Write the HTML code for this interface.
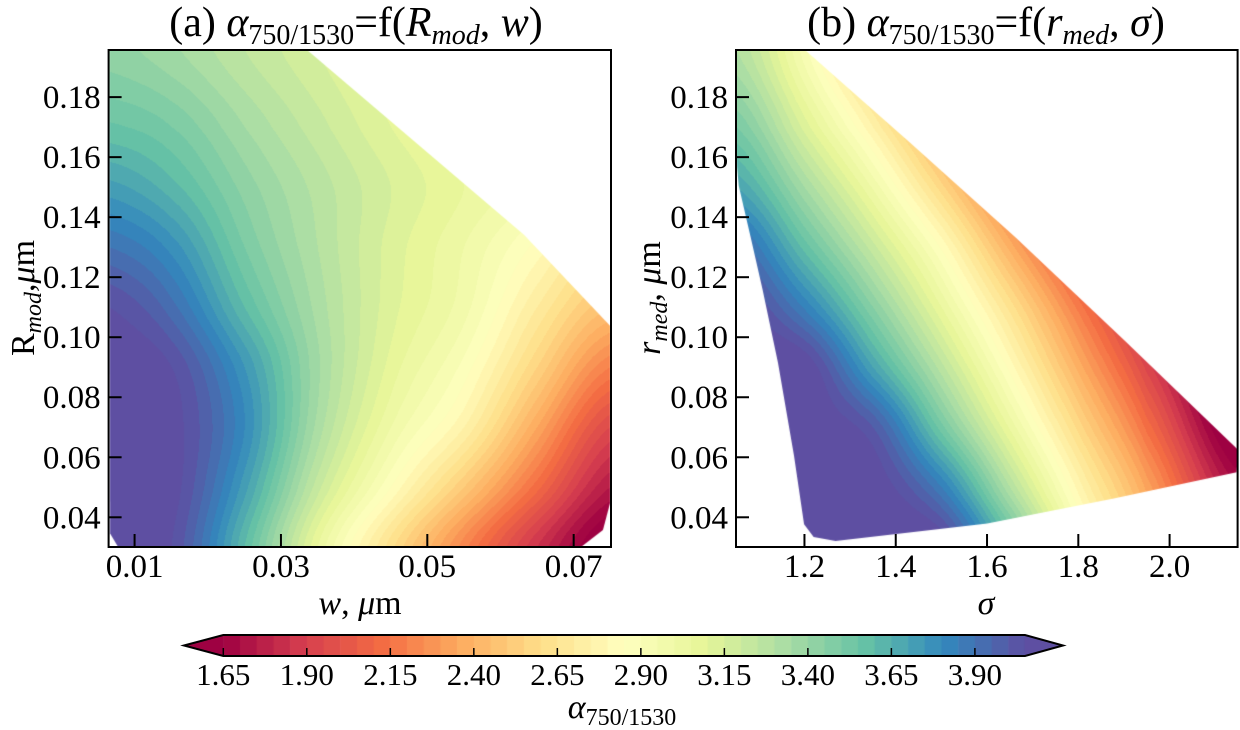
<!DOCTYPE html>
<html><head><meta charset="utf-8">
<style>
html,body{margin:0;padding:0;background:#fff;}
#wrap{position:relative;width:1240px;height:730px;overflow:hidden;font-family:"Liberation Serif",serif;}
canvas{position:absolute;}
svg{position:absolute;left:0;top:0;}
svg text{font-family:"Liberation Serif",serif;}
</style></head>
<body>
<div id="wrap">
<canvas id="cA"></canvas>
<canvas id="cB"></canvas>
<canvas id="cBar"></canvas>
<svg id="svg" width="1240" height="730"></svg>
</div>
<script>
// ---- data ----
const levelMin = 1.65, levelMax = 4.05, levelStep = 0.05;
const cbarTicks = [1.65,1.90,2.15,2.40,2.65,2.90,3.15,3.40,3.65,3.90];
// panel (a): grid of alpha over w (cols) and R_mod (rows)
const gridAx = [0.0065,0.015,0.025,0.035,0.045,0.055,0.065,0.075];
const gridAy = [0.03,0.05,0.07,0.09,0.11,0.13,0.15,0.17,0.196];
const gridAv = [
 [4.10,4.05,3.60,3.05,2.62,2.22,1.85,1.55],
 [4.10,4.08,3.72,3.22,2.85,2.50,2.12,1.75],
 [4.10,4.08,3.80,3.33,3.00,2.75,2.35,1.95],
 [4.10,4.05,3.75,3.36,3.08,2.88,2.55,2.20],
 [4.05,3.92,3.60,3.33,3.12,2.97,2.70,2.45],
 [3.90,3.78,3.50,3.30,3.13,3.00,2.83,2.62],
 [3.72,3.62,3.43,3.28,3.15,3.05,2.95,2.80],
 [3.56,3.50,3.35,3.22,3.10,3.01,2.92,2.80],
 [3.42,3.36,3.25,3.15,3.05,2.98,2.90,2.80]];
const domainAx = [0.0065,0.0334,0.0632,0.075,0.075,0.074,0.0710,0.0077,0.0066];
const domainAy = [0.1960,0.1960,0.1341,0.1037,0.045,0.0358,0.0301,0.0301,0.0346];
// panel (b): grid of alpha over sigma (cols) and r_med (rows)
const gridBx = [1.05,1.2,1.35,1.5,1.65,1.8,1.95,2.15];
const gridBy = [0.03,0.05,0.07,0.09,0.11,0.13,0.15,0.17,0.196];
const gridBv = [
 [4.10,4.10,4.10,4.10,3.59,2.94,2.46,1.86],
 [4.10,4.10,4.10,3.85,3.30,2.78,2.33,1.70],
 [4.10,4.10,4.00,3.52,3.04,2.58,2.13,1.50],
 [4.10,4.10,3.70,3.27,2.83,2.38,1.93,1.33],
 [4.10,3.84,3.45,3.05,2.63,2.18,1.73,1.13],
 [3.95,3.58,3.22,2.84,2.38,1.93,1.48,1.00],
 [3.70,3.35,2.99,2.57,2.11,1.66,1.21,1.00],
 [3.50,3.13,2.75,2.30,1.85,1.40,1.00,1.00],
 [3.30,2.92,2.47,2.00,1.55,1.10,1.00,1.00]];
const domainBx = [1.05,1.199,1.43,1.661,1.90,2.149,2.146,1.877,1.60,1.268,1.22,1.199,1.177,1.142,1.108,1.082,1.056,1.05];
const domainBy = [0.1960,0.1960,0.1650,0.1334,0.0990,0.0625,0.055,0.0463,0.0379,0.0321,0.0334,0.0377,0.0605,0.0914,0.116,0.1334,0.1505,0.1604];
const ticksAx = [0.01,0.03,0.05,0.07], ticksAxLbl = ["0.01","0.03","0.05","0.07"];
const ticksY = [0.04,0.06,0.08,0.10,0.12,0.14,0.16,0.18], ticksYLbl = ["0.04","0.06","0.08","0.10","0.12","0.14","0.16","0.18"];
const ticksBx = [1.2,1.4,1.6,1.8,2.0], ticksBxLbl = ["1.2","1.4","1.6","1.8","2.0"];

// ---- layout ----
const PA = {l:108.6,r:611,t:50,b:547,x0:0.00645,x1:0.0751,y0:0.0301,y1:0.1957};
const PB = {l:736,r:1237.6,t:50,b:547,x0:1.05,x1:2.149,y0:0.0301,y1:0.1957};
const CB = {l:223.3,r:1025,t:635,b:656,tipL:184,tipR:1063};

const spectral = ["#9e0142","#d53e4f","#f46d43","#fdae61","#fee08b","#ffffbf","#e6f598","#abdda4","#66c2a5","#3288bd","#5e4fa2"].map(h=>[parseInt(h.slice(1,3),16),parseInt(h.slice(3,5),16),parseInt(h.slice(5,7),16)]);
function cmap(t){t=Math.max(0,Math.min(1,t));const p=t*10,i=Math.min(9,Math.floor(p)),f=p-i;const a=spectral[i],b=spectral[i+1];return [a[0]+(b[0]-a[0])*f,a[1]+(b[1]-a[1])*f,a[2]+(b[2]-a[2])*f].map(Math.round);}
const nLev = Math.round((levelMax-levelMin)/levelStep);
function levelColor(v){ if(v<levelMin) return cmap(0); if(v>=levelMax) return cmap(1);
  const i=Math.min(nLev-1,Math.floor((v-levelMin)/levelStep)); return cmap((i+0.5)/nLev);}
function cr(p0,p1,p2,p3,t){return 0.5*((2*p1)+(-p0+p2)*t+(2*p0-5*p1+4*p2-p3)*t*t+(-p0+3*p1-3*p2+p3)*t*t*t);}
function interp(gx,gy,gv,x,y){
  let i=0; while(i<gx.length-2 && x>gx[i+1]) i++;
  let j=0; while(j<gy.length-2 && y>gy[j+1]) j++;
  let fx=(x-gx[i])/(gx[i+1]-gx[i]), fy=(y-gy[j])/(gy[j+1]-gy[j]);
  fx=Math.max(0,Math.min(1,fx)); fy=Math.max(0,Math.min(1,fy));
  const nx=gx.length, ny=gy.length, ci=k=>Math.max(0,Math.min(nx-1,k)), cj=k=>Math.max(0,Math.min(ny-1,k));
  const rows=[];
  for(let d=-1;d<=2;d++){const r=gv[cj(j+d)]; rows.push(cr(r[ci(i-1)],r[ci(i)],r[ci(i+1)],r[ci(i+2)],fx));}
  return cr(rows[0],rows[1],rows[2],rows[3],fy);
}
function drawField(id,P,gx,gy,gv,dx,dy){
  const c=document.getElementById(id); const w=Math.round(P.r-P.l), h=Math.round(P.b-P.t);
  c.width=w; c.height=h; c.style.left=P.l+'px'; c.style.top=P.t+'px';
  const ctx=c.getContext('2d'); const img=ctx.createImageData(w,h);
  for(let py=0;py<h;py++){ const y=P.y1-(py+0.5)/h*(P.y1-P.y0);
    for(let px=0;px<w;px++){ const x=P.x0+(px+0.5)/w*(P.x1-P.x0);
      const col=levelColor(interp(gx,gy,gv,x,y)); const k=(py*w+px)*4;
      img.data[k]=col[0];img.data[k+1]=col[1];img.data[k+2]=col[2];img.data[k+3]=255;}}
  const tmp=document.createElement('canvas'); tmp.width=w; tmp.height=h; tmp.getContext('2d').putImageData(img,0,0);
  ctx.beginPath();
  dx.forEach((xv,i)=>{const X=(xv-P.x0)/(P.x1-P.x0)*w, Y=(P.y1-dy[i])/(P.y1-P.y0)*h; i?ctx.lineTo(X,Y):ctx.moveTo(X,Y);});
  ctx.closePath(); ctx.save(); ctx.clip(); ctx.drawImage(tmp,0,0); ctx.restore();
}
drawField('cA',PA,gridAx,gridAy,gridAv,domainAx,domainAy);
drawField('cB',PB,gridBx,gridBy,gridBv,domainBx,domainBy);

// colorbar
(function(){
  const c=document.getElementById('cBar'); c.width=CB.tipR-CB.tipL+2; c.height=CB.b-CB.t;
  c.style.left=CB.tipL+'px'; c.style.top=CB.t+'px';
  const ctx=c.getContext('2d'); const bw=(CB.r-CB.l)/nLev;
  for(let i=0;i<nLev;i++){const col=cmap((i+0.5)/nLev); ctx.fillStyle=`rgb(${col})`; ctx.fillRect(CB.l-CB.tipL+i*bw,0,bw+0.6,c.height);}
  const h=c.height; let col=cmap(0); ctx.fillStyle=`rgb(${col})`;
  ctx.beginPath(); ctx.moveTo(0,h/2); ctx.lineTo(CB.l-CB.tipL+0.5,0); ctx.lineTo(CB.l-CB.tipL+0.5,h); ctx.fill();
  col=cmap(1); ctx.fillStyle=`rgb(${col})`;
  ctx.beginPath(); ctx.moveTo(CB.tipR-CB.tipL,h/2); ctx.lineTo(CB.r-CB.tipL-0.5,0); ctx.lineTo(CB.r-CB.tipL-0.5,h); ctx.fill();
})();

// ---- SVG overlay ----
const NS='http://www.w3.org/2000/svg', svg=document.getElementById('svg');
function el(tag,attrs,parent){const e=document.createElementNS(NS,tag);for(const k in attrs)e.setAttribute(k,attrs[k]);(parent||svg).appendChild(e);return e;}
const sx=(P,v)=>P.l+(v-P.x0)/(P.x1-P.x0)*(P.r-P.l);
const sy=(P,v)=>P.b-(v-P.y0)/(P.y1-P.y0)*(P.b-P.t);
const FF='Liberation Serif, serif';
function axes(P,xt,xl,name){
  const f=el('rect',{x:P.l,y:P.t,width:P.r-P.l,height:P.b-P.t,fill:'none',stroke:'#000','stroke-width':2});
  
  
  xt.forEach((v,i)=>{const X=sx(P,v);
    const t=el('line',{x1:X,x2:X,y1:P.b,y2:P.b-13,stroke:'#000','stroke-width':2});
    
    
    const tx=el('text',{x:X,y:P.b+30,'text-anchor':'middle','font-size':33,'font-family':FF,fill:'#000'}); tx.textContent=xl[i];
    
    
  });
  ticksY.forEach((v,i)=>{const Y=sy(P,v);
    const t=el('line',{x1:P.l,x2:P.l+13,y1:Y,y2:Y,stroke:'#000','stroke-width':2});
    
    
    const tx=el('text',{x:P.l-8,y:Y+11,'text-anchor':'end','font-size':33,'font-family':FF,fill:'#000'}); tx.textContent=ticksYLbl[i];
    
    
  });
}
axes(PA,ticksAx,ticksAxLbl,'panel-a');
axes(PB,ticksBx,ticksBxLbl,'panel-b');

const cbo=el('path',{d:`M${CB.tipL},${(CB.t+CB.b)/2} L${CB.l},${CB.t} L${CB.r},${CB.t} L${CB.tipR},${(CB.t+CB.b)/2} L${CB.r},${CB.b} L${CB.l},${CB.b} Z`,fill:'none',stroke:'#000','stroke-width':2});


cbarTicks.forEach(v=>{const X=CB.l+(v-levelMin)/(levelMax-levelMin)*(CB.r-CB.l);
  const t=el('line',{x1:X,x2:X,y1:CB.b,y2:CB.b-8,stroke:'#000','stroke-width':1.5});
  
  
  const tx=el('text',{x:X,y:CB.b+29,'text-anchor':'middle','font-size':31,'font-family':FF,fill:'#000'}); tx.textContent=v.toFixed(2);
  
  
});
</script>
<svg width="1240" height="730" style="position:absolute;left:0;top:0">
<g font-family="Liberation Serif, serif" fill="#000">
<text x="356" y="36" text-anchor="middle" font-size="42">(a) <tspan font-style="italic">α</tspan><tspan font-size="28" dy="8">750/1530</tspan><tspan dy="-8">=f(</tspan><tspan font-style="italic">R</tspan><tspan font-size="28" dy="8" font-style="italic">mod</tspan><tspan dy="-8">, </tspan><tspan font-style="italic">w</tspan>)</text>
<text x="986" y="36" text-anchor="middle" font-size="42">(b) <tspan font-style="italic">α</tspan><tspan font-size="28" dy="8">750/1530</tspan><tspan dy="-8">=f(</tspan><tspan font-style="italic">r</tspan><tspan font-size="28" dy="8" font-style="italic">med</tspan><tspan dy="-8">, </tspan><tspan font-style="italic">σ</tspan>)</text>
<text x="360" y="614" text-anchor="middle" font-size="34"><tspan font-style="italic">w</tspan>, <tspan font-style="italic">μ</tspan>m</text>
<text x="986" y="614" text-anchor="middle" font-size="34" font-style="italic">σ</text>
<text transform="translate(34,298) rotate(-90)" text-anchor="middle" font-size="34">R<tspan font-size="24" dy="7" font-style="italic">mod</tspan><tspan dy="-7">,</tspan><tspan font-style="italic">μ</tspan>m</text>
<text transform="translate(660,298) rotate(-90)" text-anchor="middle" font-size="34"><tspan font-style="italic">r</tspan><tspan font-size="24" dy="7" font-style="italic">med</tspan><tspan dy="-7">, </tspan><tspan font-style="italic">μ</tspan>m</text>
<text x="622" y="718" text-anchor="middle" font-size="34"><tspan font-style="italic">α</tspan><tspan font-size="24" dy="7">750/1530</tspan></text>
</g>
</svg>
</body></html>
